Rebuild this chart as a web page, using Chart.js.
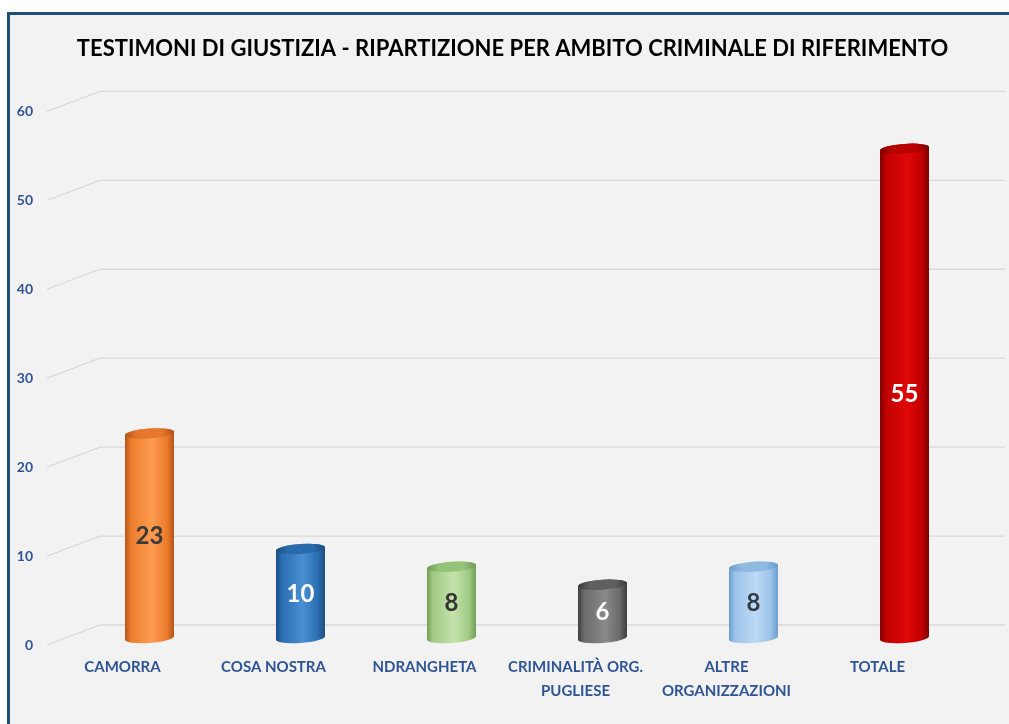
<!DOCTYPE html>
<html>
<head>
<meta charset="utf-8">
<script src="https://cdn.jsdelivr.net/npm/chart.js@4.4.1/dist/chart.umd.min.js"></script>
<style>
  html, body { margin: 0; padding: 0; background: #ffffff; }
  body { width: 1009px; height: 724px; position: relative; overflow: hidden; }
  #frame { position: absolute; left: 7px; top: 12px; width: 1100px; height: 800px;
           border-left: 3px solid #1f4e79; border-top: 3px solid #1f4e79; background: #f2f2f2; }
  #wrap { position: absolute; left: 0; top: 0; width: 1009px; height: 724px; }
</style>
</head>
<body>
<div id="frame"></div>
<div id="wrap"><canvas id="c" width="1009" height="724"></canvas></div>
<script>
// ---- data ----
const chartTitle = 'TESTIMONI DI GIUSTIZIA - RIPARTIZIONE PER AMBITO CRIMINALE DI RIFERIMENTO';
const categories = ['CAMORRA', 'COSA NOSTRA', 'NDRANGHETA', ['CRIMINALITÀ ORG.', 'PUGLIESE'], ['ALTRE', 'ORGANIZZAZIONI'], 'TOTALE'];
const values = [23, 10, 8, 6, 8, 55];
const yMin = 0;
const yMax = 60;
const yStep = 10;

// ---- styles ----
const palette = [
  { dark: '#b3541a', mid: '#ec7c2c', light: '#ff9c52', top: '#e6772c', label: '#3a3a3a' },
  { dark: '#1b4c80', mid: '#2b6fb3', light: '#4a8fd2', top: '#2a6bab', label: '#ffffff' },
  { dark: '#6f9d55', mid: '#a1ca85', light: '#c3e3ab', top: '#95c478', label: '#333333' },
  { dark: '#3c3c3c', mid: '#6a6a6a', light: '#8a8a8a', top: '#5f5f5f', label: '#ffffff' },
  { dark: '#6b9ccd', mid: '#9cc3e9', light: '#bddaf6', top: '#90b9e2', label: '#333a45' },
  { dark: '#7a0000', mid: '#c00000', light: '#e00808', top: '#b80000', label: '#ffffff' }
];
const depthDX = 53, depthDY = -20;   // full depth of the 3D floor/back wall
const barDX = 27, barDY = -7;        // bars sit mid-depth
const axisBlue = '#2f5496';
const gridColor = '#d9d9d9';

const grid3D = {
  id: 'grid3D',
  beforeDatasetsDraw(chart) {
    const ctx = chart.ctx, y = chart.scales.y, area = chart.chartArea;
    ctx.save();
    ctx.strokeStyle = gridColor;
    ctx.lineWidth = 1.3;
    y.ticks.forEach(t => {
      const py = y.getPixelForValue(t.value);
      ctx.beginPath();
      ctx.moveTo(area.left, py);
      ctx.lineTo(area.left + depthDX, py + depthDY);
      ctx.lineTo(1005, py + depthDY);
      ctx.stroke();
    });
    ctx.restore();
  }
};

const cylinders = {
  id: 'cylinders',
  afterDatasetsDraw(chart) {
    const ctx = chart.ctx;
    const meta = chart.getDatasetMeta(0);
    const rot = -0.07;
    meta.data.forEach((el, i) => {
      const p = palette[i];
      const cx = el.x + barDX;
      const rx = el.width / 2;
      const ry = 5;
      const topY = el.y + barDY;
      const baseY = el.base + barDY;
      ctx.save();
      const g = ctx.createLinearGradient(cx - rx, 0, cx + rx, 0);
      g.addColorStop(0, p.dark);
      g.addColorStop(0.12, p.mid);
      g.addColorStop(0.55, p.light);
      g.addColorStop(0.85, p.mid);
      g.addColorStop(1, p.dark);
      ctx.beginPath();
      ctx.ellipse(cx, topY, rx, ry, rot, Math.PI, 2 * Math.PI, false);
      ctx.ellipse(cx, baseY, rx, ry, rot, 0, Math.PI, false);
      ctx.closePath();
      ctx.fillStyle = g;
      ctx.fill();
      // top cap
      const gt = ctx.createLinearGradient(cx - rx, 0, cx + rx, 0);
      gt.addColorStop(0, p.dark);
      gt.addColorStop(0.25, p.top);
      gt.addColorStop(0.75, p.top);
      gt.addColorStop(1, p.dark);
      ctx.beginPath();
      ctx.ellipse(cx, topY, rx, ry, rot, 0, 2 * Math.PI);
      ctx.fillStyle = gt;
      ctx.fill();
      // value label
      ctx.fillStyle = p.label;
      ctx.font = 'bold 24px Lato';
      ctx.textAlign = 'center';
      ctx.textBaseline = 'middle';
      ctx.fillText(String(values[i]), cx, (topY + baseY) / 2 + 1);
      ctx.restore();
    });
  }
};

new Chart(document.getElementById('c'), {
  type: 'bar',
  data: {
    labels: categories,
    datasets: [{
      data: values,
      backgroundColor: 'rgba(0,0,0,0)',
      borderWidth: 0,
      categoryPercentage: 1,
      barPercentage: 0.325
    }]
  },
  options: {
    responsive: false,
    animation: false,
    layout: { padding: { left: 16, right: 0, top: 0, bottom: 0 } },
    plugins: {
      legend: { display: false },
      tooltip: { enabled: false },
      title: {
        display: true,
        text: chartTitle,
        color: '#000000',
        font: { family: 'Lato', size: 22, weight: 'bold', lineHeight: 1.2 },
        padding: { top: 36, bottom: 49 }
      }
    },
    scales: {
      x: {
        grid: { display: false },
        border: { display: false },
        ticks: {
          color: axisBlue,
          font: { family: 'Lato', size: 15, weight: 'bold', lineHeight: 1.55 },
          padding: 3,
          maxRotation: 0,
          autoSkip: false
        },
        afterFit(s) { s.height = 79; }
      },
      y: {
        min: yMin,
        max: yMax,
        grid: { display: false },
        border: { display: false },
        ticks: {
          stepSize: yStep,
          color: axisBlue,
          font: { family: 'Lato', size: 14, weight: 'bold' },
          padding: 6
        },
        afterFit(s) { s.width = 31; }
      },
      yr: {
        position: 'right',
        grid: { display: false },
        border: { display: false },
        ticks: { display: false },
        afterFit(s) { s.width = 56; }
      }
    }
  },
  plugins: [grid3D, cylinders]
});
</script>
</body>
</html>
